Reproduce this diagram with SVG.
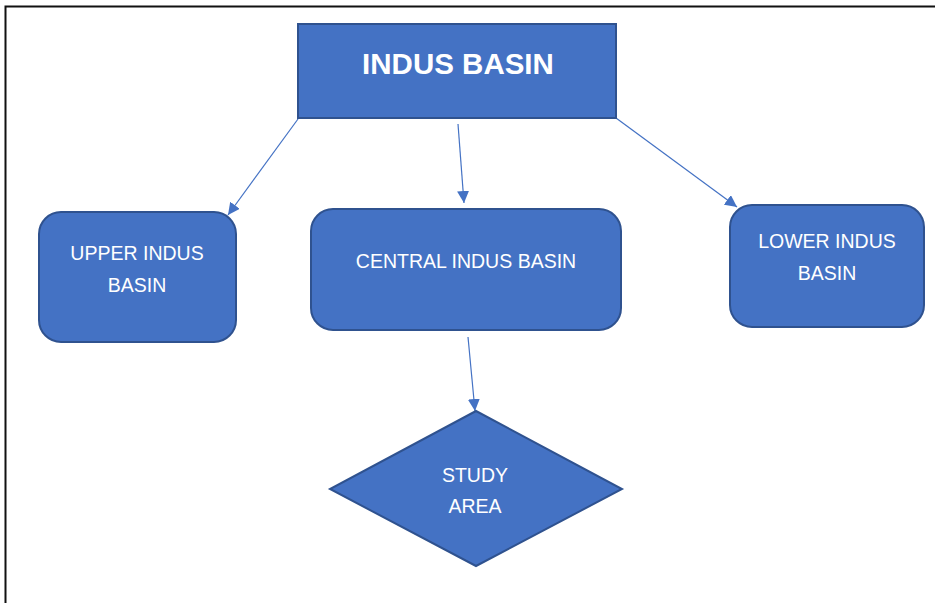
<svg xmlns="http://www.w3.org/2000/svg" width="935" height="603" viewBox="0 0 935 603">
<style>
.box{fill:#4472C4;stroke:#2F528F;stroke-width:2}
.t{fill:#fff;font-family:"Liberation Sans",Arial,sans-serif;font-size:19.5px;text-anchor:middle}
.tb{fill:#fff;font-family:"Liberation Sans",Arial,sans-serif;font-size:29.5px;font-weight:bold;text-anchor:middle}
.c{stroke:#4472C4;stroke-width:1.2;fill:none;marker-end:url(#ah)}
</style>
<defs>
<marker id="ah" viewBox="0 0 10 10" refX="10" refY="5" markerWidth="12" markerHeight="12" markerUnits="userSpaceOnUse" orient="auto">
<path d="M0,0 L10,5 L0,10 z" fill="#4472C4"/>
</marker>
</defs>
<rect width="935" height="603" fill="#fff"/>
<path d="M5.5,603 V6.5 H935" fill="none" stroke="#111" stroke-width="2"/>
<g id="connectors">
<line class="c" x1="298" y1="119" x2="228" y2="215"/>
<line class="c" x1="458" y1="124" x2="464" y2="203"/>
<line class="c" x1="616" y1="118" x2="737" y2="207"/>
<line class="c" x1="468" y1="337" x2="475" y2="411"/>
</g>
<g id="indus-basin">
<rect class="box" x="298" y="24" width="318" height="94"/>
<text class="tb" x="458" y="74">INDUS BASIN</text>
</g>
<g id="upper-indus-basin">
<rect class="box" x="39" y="212" width="197" height="130" rx="22"/>
<text class="t" x="137" y="260">UPPER INDUS</text>
<text class="t" x="137" y="292">BASIN</text>
</g>
<g id="central-indus-basin">
<rect class="box" x="311" y="209" width="310" height="121" rx="22"/>
<text class="t" x="466" y="268">CENTRAL INDUS BASIN</text>
</g>
<g id="lower-indus-basin">
<rect class="box" x="730" y="205" width="194" height="122" rx="22"/>
<text class="t" x="827" y="248">LOWER INDUS</text>
<text class="t" x="827" y="280">BASIN</text>
</g>
<g id="study-area">
<polygon class="box" points="476,411 622,489 476,566 330,489" stroke-width="1.5"/>
<text class="t" x="475" y="482">STUDY</text>
<text class="t" x="475" y="513">AREA</text>
</g>
</svg>
